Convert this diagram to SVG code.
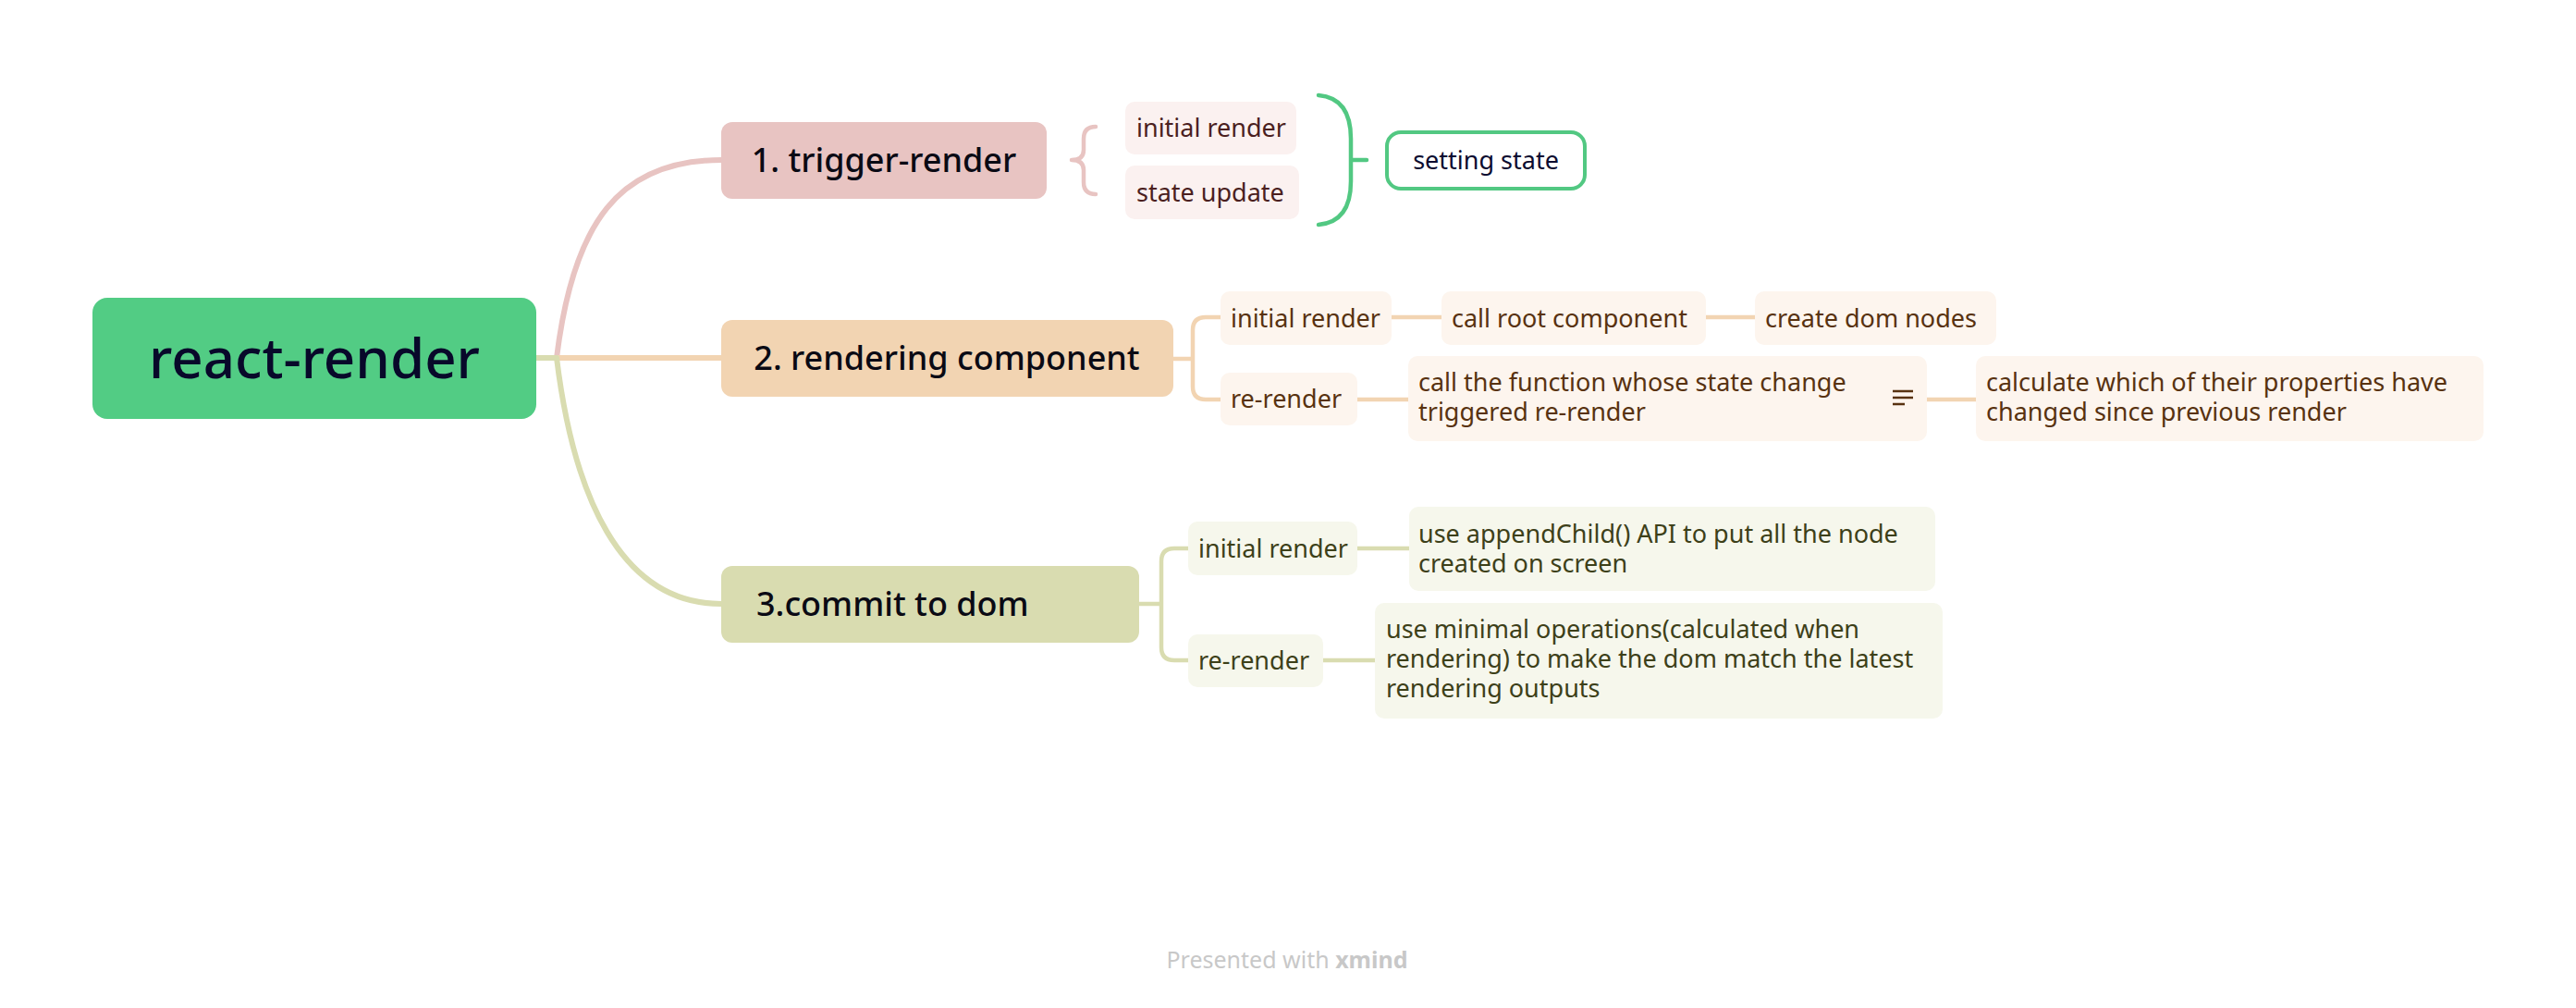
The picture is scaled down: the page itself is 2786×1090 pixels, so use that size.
<svg xmlns="http://www.w3.org/2000/svg" width="2786" height="1090" viewBox="0 0 2786 1090">
<style>
text{font-family:"Noto Sans","Open Sans","DejaVu Sans",sans-serif}
.l1{font-size:36px;fill:#0a0a14;font-weight:500}
.l2{font-size:27px}
.tr{fill:#4b1f1f}
.rc{fill:#583210}
.cm{fill:#3d4019}
.c{fill:none;stroke-width:4.5;stroke-linecap:round;stroke-linejoin:round}
.m{stroke-width:6}
.pk{stroke:#e8c4c2}
.or{stroke:#f2d4b2}
.gr{stroke:#d9dcb0}
</style>
<rect width="2786" height="1090" fill="#ffffff"/>
<g id="connectors">
<path class="c m pk" d="M602 387 C620 240 670 173 780 173"/>
<path class="c m or" d="M580 387 H780"/>
<path class="c m gr" d="M580 387 H602 C620 534 670 653 780 653"/>
<path class="c pk" d="M1185 137 Q1172 137 1172 150 V162 Q1172 173 1159 173 Q1172 173 1172 184 V197 Q1172 210 1185 210"/>
<path class="c" stroke="#52c882" d="M1426 103 Q1461 106 1461 150 V196 Q1461 240 1426 243 M1461 173 H1478"/>
<path class="c or" d="M1269 388 H1290 M1320 343 H1304 Q1290 343 1290 357 V418 Q1290 432 1304 432 H1320"/>
<path class="c or" d="M1505 343 H1559 M1845 343 H1898 M1468 432 H1523 M2084 432 H2137"/>
<path class="c gr" d="M1232 653 H1256 M1285 593 H1270 Q1256 593 1256 607 V700 Q1256 714 1270 714 H1285"/>
<path class="c gr" d="M1468 593 H1524 M1431 714 H1487"/>
</g>
<g id="root">
<rect x="100" y="322" width="480" height="131" rx="16" fill="#52cc84"/>
<text x="340" y="409" text-anchor="middle" font-size="60" font-weight="500" fill="#08082a">react-render</text>
</g>
<g id="trigger">
<rect x="780" y="132" width="352" height="83" rx="12" fill="#e8c4c2"/>
<text class="l1" x="956" y="186" text-anchor="middle">1. trigger-render</text>
</g>
<g id="rendering">
<rect x="780" y="346" width="489" height="83" rx="12" fill="#f2d4b2"/>
<text class="l1" x="1024" y="400" text-anchor="middle">2. rendering component</text>
</g>
<g id="commit">
<rect x="780" y="612" width="452" height="83" rx="12" fill="#d9dcb0"/>
<text class="l1" x="818" y="666">3.commit to dom</text>
</g>
<g id="t-initial">
<rect x="1217" y="110" width="185" height="57" rx="10" fill="#fbf1f0"/>
<text class="l2 tr" x="1229" y="148">initial render</text>
</g>
<g id="t-state">
<rect x="1217" y="179" width="188" height="58" rx="10" fill="#fbf1f0"/>
<text class="l2 tr" x="1229" y="218">state update</text>
</g>
<g id="setting-state">
<rect x="1500" y="143" width="214" height="61" rx="15" fill="#ffffff" stroke="#52c882" stroke-width="4"/>
<text class="l2" x="1607" y="183" text-anchor="middle" fill="#0c0c30">setting state</text>
</g>
<g id="r-initial">
<rect x="1320" y="315" width="185" height="58" rx="10" fill="#fdf5ee"/>
<text class="l2 rc" x="1331" y="354">initial render</text>
</g>
<g id="r-callroot">
<rect x="1559" y="315" width="286" height="58" rx="10" fill="#fdf5ee"/>
<text class="l2 rc" x="1570" y="354">call root component</text>
</g>
<g id="r-createdom">
<rect x="1898" y="315" width="261" height="58" rx="10" fill="#fdf5ee"/>
<text class="l2 rc" x="1909" y="354">create dom nodes</text>
</g>
<g id="r-rerender">
<rect x="1320" y="403" width="148" height="57" rx="10" fill="#fdf5ee"/>
<text class="l2 rc" x="1331" y="441">re-render</text>
</g>
<g id="r-callfunc">
<rect x="1523" y="385" width="561" height="92" rx="10" fill="#fdf5ee"/>
<text class="l2 rc" x="1534" y="423">call the function whose state change</text>
<text class="l2 rc" x="1534" y="455">triggered re-render</text>
<path d="M2047 423 H2069 M2047 430 H2069 M2047 437 H2060" stroke="#583210" stroke-width="2.6" fill="none"/>
</g>
<g id="r-calculate">
<rect x="2137" y="385" width="549" height="92" rx="10" fill="#fdf5ee"/>
<text class="l2 rc" x="2148" y="423">calculate which of their properties have</text>
<text class="l2 rc" x="2148" y="455">changed since previous render</text>
</g>
<g id="c-initial">
<rect x="1285" y="564" width="183" height="58" rx="10" fill="#f6f7ec"/>
<text class="l2 cm" x="1296" y="603">initial render</text>
</g>
<g id="c-append">
<rect x="1524" y="548" width="569" height="91" rx="10" fill="#f6f7ec"/>
<text class="l2 cm" x="1534" y="587">use appendChild() API to put all the node</text>
<text class="l2 cm" x="1534" y="619">created on screen</text>
</g>
<g id="c-rerender">
<rect x="1285" y="686" width="146" height="57" rx="10" fill="#f6f7ec"/>
<text class="l2 cm" x="1296" y="724">re-render</text>
</g>
<g id="c-minimal">
<rect x="1487" y="652" width="614" height="125" rx="10" fill="#f6f7ec"/>
<text class="l2 cm" x="1499" y="690">use minimal operations(calculated when</text>
<text class="l2 cm" x="1499" y="722">rendering) to make the dom match the latest</text>
<text class="l2 cm" x="1499" y="754">rendering outputs</text>
</g>
<text x="1392" y="1047" text-anchor="middle" font-size="25" fill="#c8c8c8">Presented with <tspan font-weight="bold">xmind</tspan></text>
</svg>
